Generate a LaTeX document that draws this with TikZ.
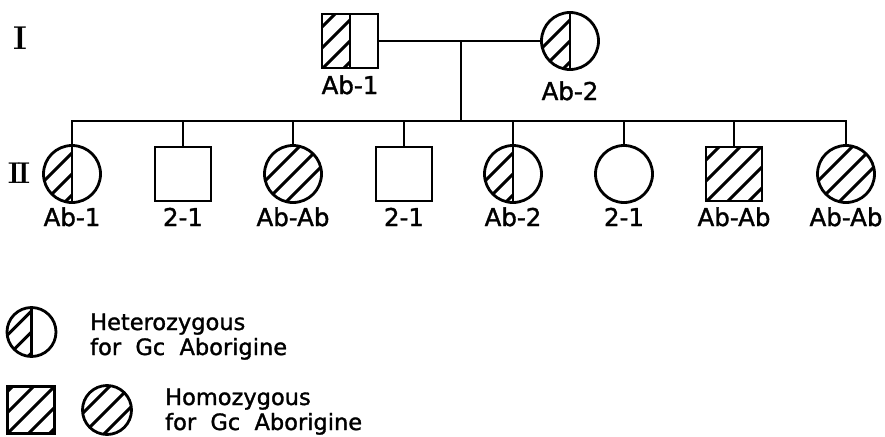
\documentclass[tikz,border=0pt]{standalone}
\usepackage{fontspec}
\setsansfont{DejaVu Sans}[FakeBold=1.4]
\usetikzlibrary{calc}

% diagonal hatching, used inside a path picture
\newcommand{\hatchit}{%
  \foreach \d in {-84,-63,...,84}
    \draw[line width=2.9pt] ($(path picture bounding box.center)+(\d pt,0pt)+(-45pt,-45pt)$) -- ++(90pt,90pt);}

\tikzset{
  line/.style={line width=2.8pt, line cap=rect},
  shp/.style={draw, line width=2.8pt, inner sep=0pt},
  sq/.style={shp, rectangle, minimum width=56pt, minimum height=54pt},
  ci/.style={shp, circle, minimum size=57pt},
  hetero/.style={path picture={
      \draw[line width=2.8pt] (path picture bounding box.north) -- (path picture bounding box.south);
      \clip (path picture bounding box.south west) rectangle (path picture bounding box.north);
      \hatchit}},
  homo/.style={path picture={\hatchit}},
  plainsq/.style={sq},
  plainci/.style={ci},
  hetsq/.style={sq,hetero},
  hetci/.style={ci,hetero},
  homsq/.style={sq,homo},
  homci/.style={ci,homo},
  lbl/.style={font=\sffamily\fontsize{24.5}{28}\selectfont, inner sep=0pt, anchor=base},
  legtext/.style={font=\sffamily\fontsize{22.5}{25}\selectfont, inner sep=0pt, anchor=base west},
  roman/.style={font=\fontsize{33}{35}\selectfont\bfseries, inner sep=0pt}
}

\begin{document}
\begin{tikzpicture}[x=1pt,y=-1pt]
  \useasboundingbox (0,0) rectangle (885,436);

  % generation I
  \node[roman] (gI) at (20,38) {I};
  \node[hetsq] (f) at (350,41) {};
  \node[hetci] (m) at (570,41) {};
  \node[lbl] (lf) at (350,94) {Ab-1};
  \node[lbl] (lm) at (570,100) {Ab-2};
  \coordinate (sib) at (461,121);
  \draw[line] (f.east) -- (m.west);
  \draw[line] (sib |- f.east) -- (sib);

  % generation II
  \node[roman,font=\fontsize{30}{32}\selectfont\bfseries] (gII) at (19,173) {I\kern-3ptI};
  \foreach \i/\x/\kind/\txt in {1/72/hetci/Ab-1, 2/183/plainsq/2-1, 3/293/homci/Ab-Ab,
      4/404/plainsq/2-1, 5/513/hetci/Ab-2, 6/624/plainci/2-1, 7/734/homsq/Ab-Ab, 8/846/homci/Ab-Ab}
  {
    \node[\kind] (c\i) at (\x,174) {};
    \node[lbl] (l\i) at (\x,226) {\txt};
    \draw[line] (c\i.north) -- (c\i.north |- sib);
  }
  \draw[line] (c1.north |- sib) -- (c8.north |- sib);

  % legend
  \node[ci,hetero,minimum size=49pt] (khet) at (31.5,332) {};
  \node[legtext] (thet1) at (90,330) {Heterozygous};
  \node[legtext] (thet2) at (90,355) {for\ \ Gc\ \ Aborigine};
  \node[sq,homo,minimum width=47pt,minimum height=47pt] (khomsq) at (31,410) {};
  \node[ci,homo,minimum size=49pt] (khomci) at (107,410) {};
  \node[legtext] (thom1) at (165,405) {Homozygous};
  \node[legtext] (thom2) at (165,430) {for\ \ Gc\ \ Aborigine};
\end{tikzpicture}
\end{document}
